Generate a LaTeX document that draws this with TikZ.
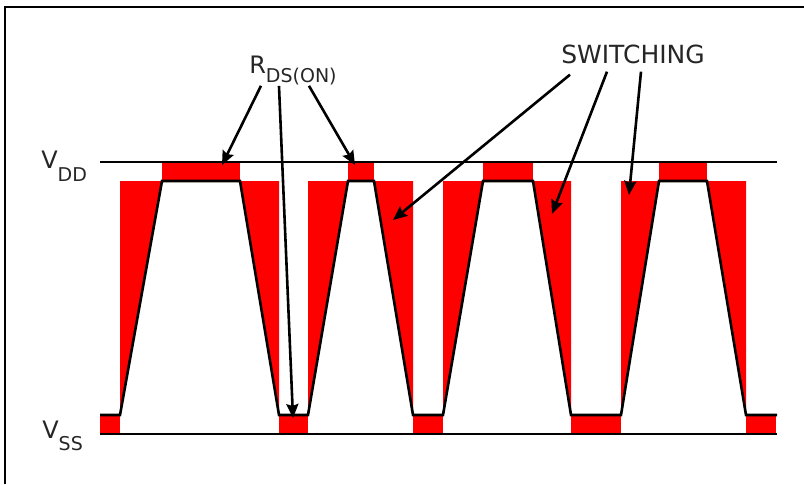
\documentclass[tikz,border=0pt]{standalone}
\usepackage{fontspec}
\setmainfont{DejaVu Sans}
\usetikzlibrary{arrows.meta, positioning}

% letter with a lowered subscript
\newcommand{\sublabel}[3]{#1\raisebox{-#3}{\fontsize{9.5}{9.5}\selectfont #2}}

\begin{document}
\begin{tikzpicture}[x=0.5pt, y=-0.5pt, >={Stealth[length=7pt, width=6pt, inset=1pt]}, line width=1.3pt,
  lbl/.style={inner sep=0pt, anchor=base west, text=black!85, font=\fontsize{12}{12}\selectfont},
  pointer/.style={->, line width=1.3pt}]
  \useasboundingbox (0,0) rectangle (804,484);
  % Frame
  \draw (5,484) -- (5,7) -- (804,7);
  % Losses: switching edges and on-state plateaus
  \foreach \ra/\rb/\fa/\fb in {120/162/240/279, 308/348/374/413, 443/483/533/571, 621/659/707/746} {
    \fill[red] (\ra,181) -- (\rb,181) -- (\ra,415) -- cycle;
    \fill[red] (\rb,162) rectangle (\fa,181);
    \fill[red] (\fa,181) -- (\fb,181) -- (\fb,415) -- cycle;
  }
  \foreach \a/\b in {100/120, 279/308, 413/443, 571/621, 746/776}
    \fill[red] (\a,415) rectangle (\b,434);
  % Rails
  \draw (100,162) -- (777,162);
  \draw (100,434) -- (777,434);
  % Waveform
  \draw (100,415) -- (120,415) -- (162,181) -- (240,181) -- (279,415) -- (308,415)
    -- (348,181) -- (374,181) -- (413,415) -- (443,415) -- (483,181) -- (533,181)
    -- (571,415) -- (621,415) -- (659,181) -- (707,181) -- (746,415) -- (777,415);
  % Labels
  \node[lbl] (vdd) at (40,168) {\sublabel{V}{DD}{6.5pt}};
  \node[lbl] (vss) at (41,438) {\sublabel{V}{SS}{6pt}};
  \node[lbl] (rds) at (248,73) {\sublabel{R}{DS(ON)}{4.5pt}};
  \node[lbl, anchor=base, font=\fontsize{12.5}{12.5}\selectfont] (sw) at (633,63) {SWITCHING};
  % Arrow tips
  \coordinate (rdsTopA) at (222,165);
  \coordinate (rdsLow) at (293,418);
  \coordinate (rdsTopB) at (355,165);
  \coordinate (swFallA) at (393,220);
  \coordinate (swFallB) at (552,214);
  \coordinate (swRise) at (629,195);
  % Pointers
  \draw[pointer] ([xshift=-16pt]rds.south) -- (rdsTopA);
  \draw[pointer] ([xshift=-7pt]rds.south) -- (rdsLow);
  \draw[pointer] ([xshift=8pt]rds.south) -- (rdsTopB);
  \draw[pointer] ([xshift=-31.5pt, yshift=-5pt]sw.south) -- (swFallA);
  \draw[pointer] ([xshift=-13pt, yshift=-3.5pt]sw.south) -- (swFallB);
  \draw[pointer] ([xshift=4pt, yshift=-3.5pt]sw.south) -- (swRise);
\end{tikzpicture}
\end{document}
